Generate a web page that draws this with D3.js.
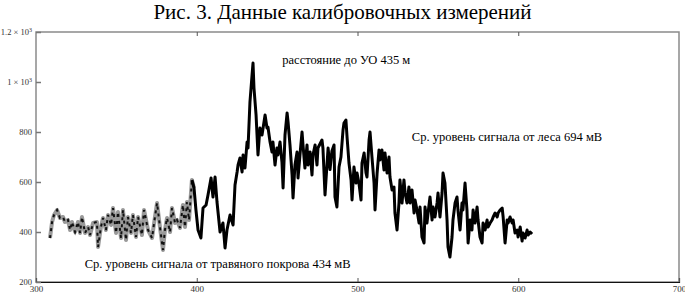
<!DOCTYPE html>
<meta charset="utf-8">
<html>
    <head>
        <style type="text/css">
            body { margin:0; background:#fff; }
            svg { display:block; }
        </style>
        <script src="https://d3js.org/d3.v7.min.js"></script>
    </head>
    <body>
        <svg width="685" height="293"></svg>
        <script type="text/javascript">
            var grassX = [308.7, 310.0, 311.2, 313.1, 314.9, 316.8, 318.0, 319.9, 321.2, 322.4, 324.3, 326.1, 327.4, 328.6,
                330.5, 332.4, 333.6, 335.5, 337.9, 338.6, 340.4, 341.7, 343.5, 344.8, 346.7, 347.9, 349.8, 351.0, 352.9,
                354.1, 356.0, 357.2, 359.1, 360.3, 362.2, 363.5, 365.9, 367.2, 369.7, 372.2, 374.0, 375.3, 377.1, 379.0,
                380.2, 381.5, 383.4, 384.6, 386.5, 387.7, 389.6, 391.4, 392.7, 393.9, 395.2, 397.0, 398.3];
            var grassV = [376, 440, 468, 488, 456, 460, 440, 448, 408, 440, 400, 440, 396, 460,
                396, 420, 388, 436, 440, 340, 420, 456, 408, 468, 428, 496, 396, 480, 376,
                488, 368, 460, 396, 468, 380, 460, 388, 488, 408, 376, 460, 516, 420, 328,
                408, 456, 400, 496, 436, 448, 416, 508, 420, 520, 448, 608, 576];

            var forestX = [397.0, 398.3, 399.5, 400.8, 402.6, 403.9, 405.8, 407.0, 408.9, 410.1, 411.4, 412.6, 414.5, 416.3,
                417.6, 418.8, 420.7, 422.6, 423.8, 425.1, 425.7, 426.9, 428.2, 428.8, 430.0, 431.3, 431.9, 433.1, 434.4,
                435.0, 435.6, 436.9, 438.1, 439.3, 440.6, 442.5, 443.7, 444.3, 445.6, 446.8, 447.4, 448.7, 449.9, 450.5,
                451.8, 453.0, 453.7, 454.9, 456.2, 456.8, 458.0, 459.3, 459.9, 461.1, 462.4, 463.0, 464.2, 465.5, 466.1,
                467.3, 468.6, 469.2, 470.5, 471.7, 472.3, 473.6, 474.8, 475.4, 477.9, 478.5, 479.8, 481.0, 481.7, 482.9,
                484.1, 485.4, 486.0, 487.2, 488.5, 489.7, 491.0, 491.6, 492.8, 493.5, 494.7, 496.0, 496.6, 497.8, 499.1,
                499.7, 500.9, 502.2, 502.8, 504.1, 505.3, 505.9, 507.2, 507.8, 509.0, 510.3, 510.9, 512.2, 513.4, 514.0,
                515.2, 516.5, 517.1, 518.4, 519.6, 520.2, 521.5, 522.7, 523.3, 524.6, 525.8, 526.4, 527.7, 528.9, 529.6,
                530.8, 532.0, 532.7, 533.9, 535.2, 535.8, 537.0, 538.3, 538.9, 540.1, 541.4, 542.0, 543.2, 543.9, 545.1,
                546.4, 547.0, 548.2, 549.5, 550.1, 551.3, 552.6, 553.2, 554.4, 555.7, 556.3, 557.5, 558.8, 559.4, 560.7,
                561.9, 562.5, 563.8, 565.0, 565.6, 566.9, 568.1, 568.8, 570.0, 571.2, 571.9, 573.1, 574.4, 575.0, 576.2,
                577.5, 578.1, 579.4, 580.6, 581.2, 582.5, 583.7, 584.4, 585.6, 586.9, 587.5, 588.7, 590.0, 590.6, 591.8,
                593.1, 593.7, 594.9, 596.2, 596.8, 598.0, 599.3, 599.9, 601.2, 602.4, 603.0, 604.3, 605.5, 606.2, 607.4,
                608.6];
            var forestV = [608, 576, 488, 408, 376, 496, 508, 548, 616, 540, 620, 520, 400, 436,
                336, 408, 468, 428, 588, 640, 668, 696, 640, 708, 656, 760, 736, 920, 1028,
                1076, 976, 868, 708, 816, 788, 868, 816, 820, 760, 720, 760, 668, 736, 708,
                760, 680, 576, 788, 876, 840, 748, 628, 536, 668, 720, 616, 708, 800, 748,
                656, 748, 668, 720, 628, 708, 748, 668, 736, 768, 736, 548, 668, 736, 650,
                724, 748, 540, 500, 660, 700, 808, 836, 848, 780, 676, 608, 528, 660, 596,
                636, 596, 528, 676, 716, 636, 620, 768, 800, 700, 596, 488, 636, 728, 688,
                728, 648, 716, 636, 700, 620, 568, 580, 476, 408, 516, 608, 516, 608, 556,
                516, 580, 516, 568, 476, 528, 488, 436, 500, 380, 356, 500, 436, 476, 540,
                448, 500, 460, 516, 556, 460, 556, 636, 596, 448, 340, 300, 380, 448, 516,
                540, 488, 408, 516, 488, 596, 488, 356, 448, 408, 488, 436, 500, 448, 380,
                356, 436, 408, 448, 420, 436, 448, 460, 476, 460, 476, 488, 496, 460, 356,
                448, 436, 460, 436, 448, 396, 408, 380, 420, 364, 396, 376, 408, 388, 400,
                392];

            var xTicks = [300, 400, 500, 600, 700];
            var yTicks = [200, 400, 600, 800, 1000, 1200];

            var title = "Рис. 3. Данные калибровочных измерений";
            var notes = [
                {text: "расстояние до УО 435 м", x: 493, y: 1072},
                {text: "Ср. уровень сигнала от леса 694 мВ", x: 593, y: 764},
                {text: "Ср. уровень сигнала от травяного покрова 434 мВ", x: 413, y: 256}
            ];

            var serif = "'Times New Roman', Times, 'Liberation Serif', Tinos, 'DejaVu Serif', serif";
            var width = 685, height = 293;
            var margin = {top: 32, right: 6, bottom: 11, left: 36};

            var xScale = d3.scaleLinear()
                .domain([300, 700])
                .range([margin.left, width - margin.right]);
            var yScale = d3.scaleLinear()
                .domain([200, 1200])
                .range([height - margin.bottom, margin.top]);

            var svg = d3.select("svg");

            // title
            svg.append("text")
                .attr("x", width / 2)
                .attr("y", 19)
                .attr("text-anchor", "middle")
                .attr("font-family", serif)
                .attr("font-size", 21)
                .text(title);

            // frame
            svg.append("rect")
                .attr("x", xScale(300))
                .attr("y", yScale(1200))
                .attr("width", xScale(700) - xScale(300))
                .attr("height", yScale(200) - yScale(1200))
                .attr("fill", "none")
                .attr("stroke", "#8a8a8a")
                .attr("stroke-width", 1.5);

            var xAxis = d3.axisBottom(xScale)
                .tickValues(xTicks)
                .tickSize(-4)
                .tickPadding(4)
                .tickFormat(d3.format("d"));
            var xAxisTop = d3.axisTop(xScale)
                .tickValues(xTicks.slice(1, -1))
                .tickSize(-4)
                .tickFormat("");
            var yAxis = d3.axisLeft(yScale)
                .tickValues(yTicks)
                .tickSize(-5)
                .tickFormat("");

            var gx = svg.append("g")
                .attr("transform", "translate(0," + yScale(200) + ")")
                .call(xAxis)
                .attr("font-family", serif)
                .attr("font-size", 9);
            gx.select(".domain").attr("stroke", "#111").attr("stroke-width", 1.2);
            gx.selectAll(".tick line").attr("stroke", "#555");
            gx.selectAll(".tick text").attr("fill", "#333");

            var gt = svg.append("g")
                .attr("transform", "translate(0," + yScale(1200) + ")")
                .call(xAxisTop);
            gt.select(".domain").remove();
            gt.selectAll(".tick line").attr("stroke", "#555");

            var gy = svg.append("g")
                .attr("transform", "translate(" + xScale(300) + ",0)")
                .call(yAxis);
            gy.select(".domain").remove();
            gy.selectAll(".tick line").attr("stroke", "#777").attr("stroke-width", 1.5);

            // y labels, scientific form for 1000 and 1200
            yTicks.forEach(function (v) {
                var t = svg.append("text")
                    .attr("x", xScale(300) - 4)
                    .attr("y", yScale(v) + 3)
                    .attr("text-anchor", "end")
                    .attr("fill", "#333")
                    .attr("font-family", serif)
                    .attr("font-size", 8.5);
                if (v >= 1000) {
                    t.append("tspan").text((v / 1000) + " \u00d7 10");
                    t.append("tspan").attr("dy", -3).attr("font-size", 6).text("3");
                } else {
                    t.text(v);
                }
            });

            var line = d3.line()
                .x(function (d) { return xScale(d[0]); })
                .y(function (d) { return yScale(d[1]); });

            var grass = grassX.map(function (x, i) { return [x, grassV[i]]; });
            var forest = forestX.map(function (x, i) { return [x, forestV[i]]; });

            svg.append("path")
                .datum(grass)
                .attr("d", line)
                .attr("fill", "none")
                .attr("stroke", "#9a9a9a")
                .attr("stroke-width", 4)
                .attr("stroke-linejoin", "round");
            svg.append("path")
                .datum(grass)
                .attr("d", line)
                .attr("fill", "none")
                .attr("stroke", "#111")
                .attr("stroke-width", 2)
                .attr("stroke-dasharray", "3,4");

            svg.append("path")
                .datum(forest)
                .attr("d", line)
                .attr("fill", "none")
                .attr("stroke", "#000")
                .attr("stroke-width", 3)
                .attr("stroke-linejoin", "round");

            svg.selectAll(".note")
                .data(notes)
                .enter().append("text")
                .attr("class", "note")
                .attr("x", function (d) { return xScale(d.x); })
                .attr("y", function (d) { return yScale(d.y); })
                .attr("text-anchor", "middle")
                .attr("font-family", serif)
                .attr("font-size", 12.5)
                .text(function (d) { return d.text; });
        </script>
    </body>
</html>
